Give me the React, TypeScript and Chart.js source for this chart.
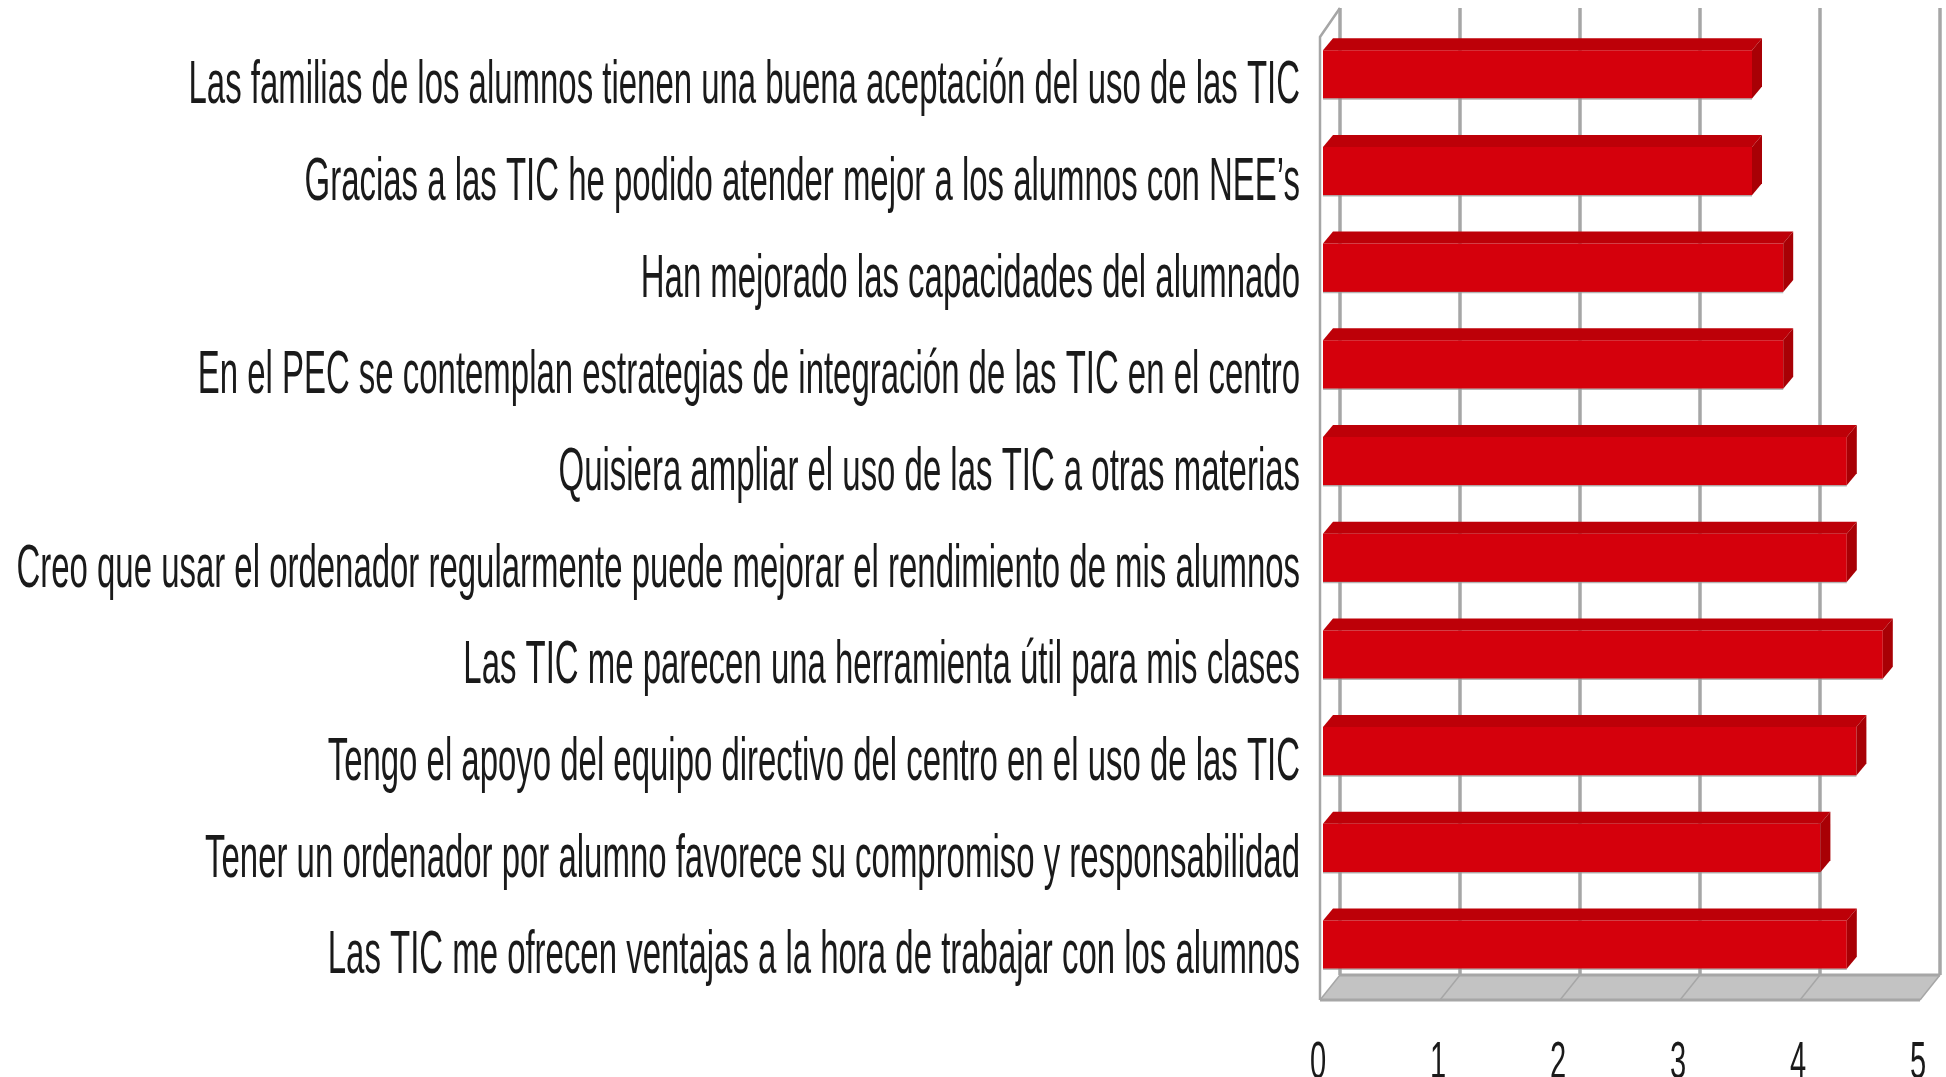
import React, { useEffect, useRef } from "react";
import { Chart, registerables } from "chart.js";

Chart.register(...registerables);

const categories = [
  "Las familias de los alumnos tienen una buena aceptación del uso de las TIC",
  "Gracias a las TIC he podido atender mejor a los alumnos con NEE’s",
  "Han mejorado las capacidades del alumnado",
  "En el PEC se contemplan estrategias de integración de las TIC en el centro",
  "Quisiera ampliar el uso de las TIC a otras materias",
  "Creo que usar el ordenador regularmente puede mejorar el rendimiento de mis alumnos",
  "Las TIC me parecen una herramienta útil para mis clases",
  "Tengo el apoyo del equipo directivo del centro en el uso de las TIC",
  "Tener un ordenador por alumno favorece su compromiso y responsabilidad",
  "Las TIC me ofrecen ventajas a la hora de trabajar con los alumnos",
];
const values = [3.6, 3.6, 3.86, 3.86, 4.39, 4.39, 4.69, 4.47, 4.17, 4.39];
const xTicks = [0, 1, 2, 3, 4, 5];

const FRONT = "#d5000c";
const TOP = "#bd0008";
const SIDE = "#a80005";
const GRID = "#a6a6a6";
const FLOOR = "#c3c3c3";
const WALL_DX = 20;
const WALL_DY = 25;
const BAR_DX = 10;
const BAR_DY = 12;

// Draws an axis' labels squeezed horizontally, as in the stretched reference image.
function squeeze(scale: any, sx: number, dx: number, dy: number) {
  const orig = scale.drawLabels;
  scale.drawLabels = function (area: any) {
    const ctx = this.ctx;
    const fill = ctx.fillText;
    ctx.fillText = function (t: string, x: number, y: number) {
      ctx.save();
      ctx.translate(x + dx, y + dy);
      ctx.scale(sx, 1);
      fill.call(ctx, t, 0, 0);
      ctx.restore();
    };
    orig.call(this, area);
    delete ctx.fillText;
  };
}

const box3d = {
  id: "box3d",
  afterLayout(chart: any) {
    if (chart.$squeezed) return;
    chart.$squeezed = true;
    squeeze(chart.scales.y, 0.54, 0, 12);
    squeeze(chart.scales.x, 0.56, -2, -3);
  },
  beforeDatasetsDraw(chart: any) {
    const { ctx, scales } = chart;
    const x = scales.x;
    const x0 = x.getPixelForValue(0);
    const x5 = x.getPixelForValue(5);
    const yFront = chart.chartArea.bottom + 7;
    const yBack = yFront - WALL_DY;
    const yTop = 8;
    ctx.save();
    // floor
    ctx.fillStyle = FLOOR;
    ctx.beginPath();
    ctx.moveTo(x0, yFront);
    ctx.lineTo(x0 + WALL_DX, yBack);
    ctx.lineTo(x5 + WALL_DX, yBack);
    ctx.lineTo(x5, yFront);
    ctx.closePath();
    ctx.fill();
    // back wall grid + floor grid
    ctx.strokeStyle = GRID;
    for (const v of xTicks) {
      const px = x.getPixelForValue(v);
      ctx.lineWidth = 3.5;
      ctx.beginPath();
      ctx.moveTo(px + WALL_DX, yTop);
      ctx.lineTo(px + WALL_DX, yBack);
      ctx.stroke();
      ctx.lineWidth = 1.5;
      ctx.beginPath();
      ctx.moveTo(px + WALL_DX, yBack);
      ctx.lineTo(px, yFront);
      ctx.stroke();
    }
    ctx.lineWidth = 3;
    ctx.beginPath();
    ctx.moveTo(x0 + WALL_DX, yBack);
    ctx.lineTo(x5 + WALL_DX, yBack);
    ctx.stroke();
    ctx.beginPath();
    ctx.moveTo(x0, yFront);
    ctx.lineTo(x5, yFront);
    ctx.stroke();
    // left wall outline
    ctx.lineWidth = 2.5;
    ctx.beginPath();
    ctx.moveTo(x0, yFront);
    ctx.lineTo(x0, yTop + WALL_DY + 4);
    ctx.lineTo(x0 + WALL_DX, yTop);
    ctx.stroke();
    ctx.restore();
  },
  afterDatasetsDraw(chart: any) {
    const { ctx } = chart;
    const meta = chart.getDatasetMeta(0);
    ctx.save();
    for (const bar of meta.data) {
      const { x, y, base, height } = bar.getProps(["x", "y", "base", "height"], true);
      const t = y - height / 2;
      const b = y + height / 2;
      ctx.fillStyle = TOP;
      ctx.beginPath();
      ctx.moveTo(base, t);
      ctx.lineTo(base + BAR_DX, t - BAR_DY);
      ctx.lineTo(x + BAR_DX, t - BAR_DY);
      ctx.lineTo(x, t);
      ctx.closePath();
      ctx.fill();
      ctx.fillStyle = SIDE;
      ctx.beginPath();
      ctx.moveTo(x, t);
      ctx.lineTo(x + BAR_DX, t - BAR_DY);
      ctx.lineTo(x + BAR_DX, b - BAR_DY);
      ctx.lineTo(x, b);
      ctx.closePath();
      ctx.fill();
      ctx.strokeStyle = "rgba(150,150,150,0.7)";
      ctx.lineWidth = 1.5;
      ctx.beginPath();
      ctx.moveTo(base, b + 0.5);
      ctx.lineTo(x, b + 0.5);
      ctx.stroke();
    }
    ctx.restore();
  },
};

export default function App() {
  const ref = useRef<HTMLCanvasElement>(null);
  useEffect(() => {
    const chart = new Chart(ref.current!, {
      type: "bar",
      data: {
        labels: categories,
        datasets: [
          {
            data: values,
            backgroundColor: FRONT,
            base: 0.025,
            barPercentage: 0.5,
            categoryPercentage: 1,
          } as any,
        ],
      },
      options: {
        indexAxis: "y",
        animation: false,
        responsive: false,
        layout: { padding: { top: 26, right: 26, bottom: 0, left: 0 } },
        plugins: { legend: { display: false }, title: { display: false }, tooltip: { enabled: false } },
        scales: {
          x: {
            min: 0,
            max: 5,
            grid: { display: false },
            border: { display: false },
            ticks: {
              stepSize: 1,
              maxRotation: 0,
              padding: 34,
              color: "#1a1a1a",
              font: { family: "'Liberation Sans'", size: 52 },
            },
            afterFit(s: any) {
              s.height = 84;
              s.paddingLeft = 0;
              s.paddingRight = 0;
            },
          },
          y: {
            grid: { display: false },
            border: { display: false },
            ticks: {
              autoSkip: false,
              padding: 12,
              color: "#1a1a1a",
              font: { family: "'Liberation Sans'", size: 61 },
            },
            afterFit(s: any) {
              s.width = 1320;
              s.paddingTop = 0;
              s.paddingBottom = 0;
            },
          },
        },
      },
      plugins: [box3d],
    } as any);
    return () => chart.destroy();
  }, []);
  return (
    <div style={{ position: "absolute", left: 0, top: 0, width: 1946, height: 1077, background: "#fff" }}>
      <canvas ref={ref} width={1946} height={1077} style={{ display: "block" }} />
    </div>
  );
}
